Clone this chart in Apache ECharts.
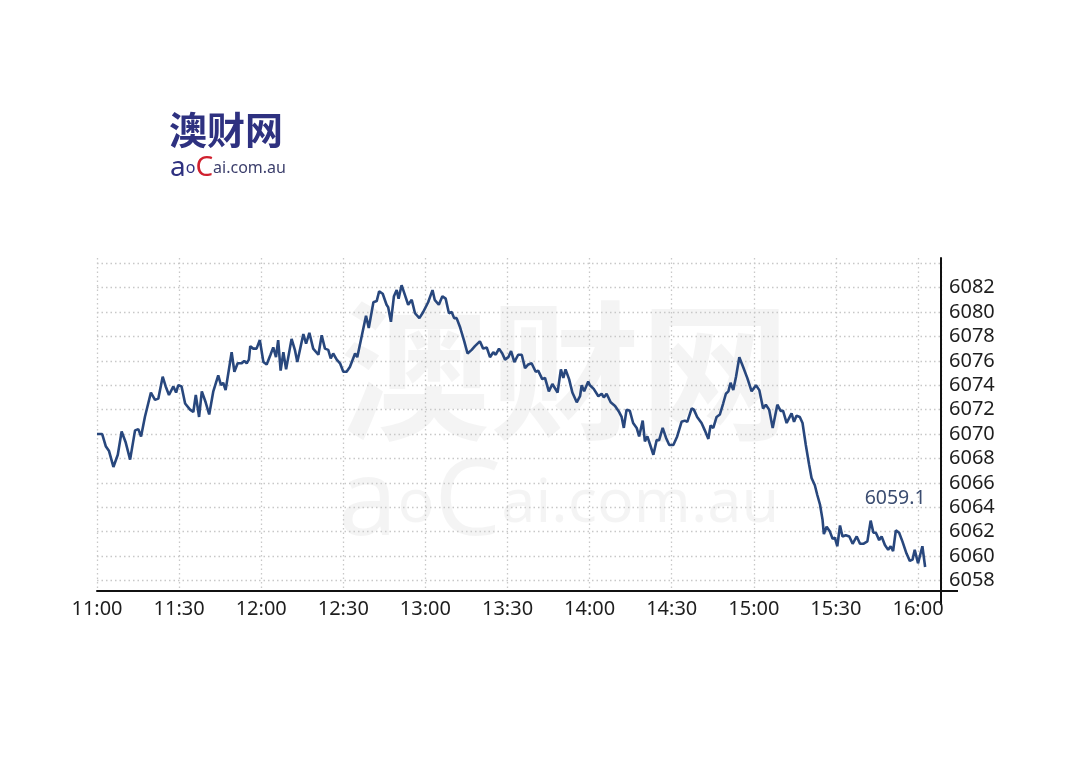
<!DOCTYPE html>
<html><head><meta charset="utf-8">
<script src="https://cdn.jsdelivr.net/npm/echarts@6/dist/echarts.min.js"></script>
<style>html,body{margin:0;padding:0;background:#fff}#c{width:1080px;height:766px}</style>
</head><body><div id="c"></div>
<script>
// minutes after 11:00
const minutes = [
  0,1.9,3.2,4.4,6.0,7.6,9.0,10.5,12.1,13.9,
  15.1,16.1,17.5,19.7,21.2,22.4,24.0,25.1,26.3,27.9,
  28.9,29.7,30.9,32.2,34.0,35.2,36.1,37.3,38.3,39.7,
  41.0,42.5,44.3,45.3,46.1,47.0,49.2,50.2,51.4,52.9,
  53.8,54.7,55.5,56.0,57.1,58.3,59.5,
  60.8,62.0,63.4,64.4,65.4,66.2,67.1,68.1,69.1,71.1,
  72.3,73.2,75.4,76.4,77.6,79.0,80.9,81.5,82.1,83.3,
  84.5,85.4,86.3,87.6,88.8,90.0,91.2,92.4,94.3,95.1,
  96.7,98.3,99.3,101.0,102.2,103.1,104.4,105.8,106.4,107.4,
  108.5,109.5,110.2,111.3,112.5,113.7,115.0,116.2,117.8,119.2,
  121.0,122.6,
  123.4,124.9,126.2,127.4,128.6,129.6,130.5,131.4,132.6,134.2,
  135.4,136.9,138.1,139.9,141.1,142.4,143.6,144.8,145.7,146.9,
  148.1,149.1,150.3,151.3,152.5,153.9,155.2,156.4,157.6,158.8,
  160.3,161.2,162.7,163.7,165.1,166.4,168.3,169.5,170.4,171.2,
  172.5,173.7,175.3,176.5,177.1,178.0,179.5,
  180.1,181.5,183.2,184.4,185.2,186.2,187.7,189.3,190.8,191.7,
  192.5,193.5,194.7,195.9,197.2,198.1,199.4,200.2,201.1,202.0,
  203.3,204.5,205.4,206.7,207.9,209.1,210.6,212.0,213.6,214.8,
  215.7,217.3,218.1,219.3,220.9,222.1,223.4,224.2,225.2,226.4,
  227.6,228.8,229.8,230.7,231.5,232.5,233.5,234.7,236.1,237.6,
  239.2,240.8,242.0,
  243.4,244.4,245.6,246.9,248.6,249.8,250.7,252.0,252.9,253.8,
  254.7,255.6,256.8,257.8,259.0,260.2,261.1,262.3,263.2,264.2,
  265.1,265.6,266.6,267.8,268.8,269.6,270.5,271.5,272.4,273.6,
  274.9,276.1,277.6,278.8,280.0,281.5,282.7,283.7,284.6,285.8,
  286.7,287.9,289.1,290.0,290.9,291.9,293.1,294.3,295.8,297.0,
  298.0,298.8,300.0,301.6,302.6
];
const prices = [
  6070.0,6070.0,6069.0,6068.6,6067.3,6068.3,6070.2,6069.3,6067.9,6070.3,
  6070.4,6069.8,6071.4,6073.4,6072.8,6072.9,6074.7,6073.9,6073.2,6073.9,
  6073.4,6074.0,6073.9,6072.5,6072.0,6071.8,6073.2,6071.4,6073.5,6072.6,
  6071.6,6073.5,6074.8,6074.0,6074.2,6073.6,6076.7,6075.1,6075.8,6075.8,
  6076.0,6075.8,6076.1,6077.2,6077.0,6077.0,6077.7,
  6075.9,6075.7,6076.5,6077.1,6076.3,6077.7,6075.2,6076.7,6075.3,6077.8,
  6076.9,6075.9,6078.2,6077.4,6078.3,6077.0,6076.5,6076.4,6078.1,6077.0,
  6076.9,6076.2,6076.6,6076.1,6075.8,6075.1,6075.1,6075.5,6076.6,6076.3,
  6078.0,6079.7,6078.7,6080.8,6080.9,6081.7,6081.5,6080.6,6080.4,6079.2,
  6081.3,6081.8,6081.1,6082.2,6081.4,6080.6,6081.0,6079.9,6079.5,6080.0,
  6080.8,6081.8,
  6081.0,6080.6,6081.3,6081.1,6079.9,6080.0,6079.5,6079.5,6078.8,6077.6,
  6076.6,6076.9,6077.2,6077.6,6077.0,6077.1,6076.3,6076.7,6076.5,6077.0,
  6076.6,6076.1,6076.3,6076.8,6075.9,6076.5,6076.5,6075.4,6075.7,6075.8,
  6075.1,6075.2,6074.5,6074.6,6073.5,6074.1,6073.4,6075.3,6074.6,6075.3,
  6074.5,6073.4,6072.6,6073.1,6074.0,6073.5,6074.3,
  6074.0,6073.7,6073.1,6073.3,6073.0,6073.3,6072.6,6072.3,6071.8,6071.4,
  6070.5,6072.0,6071.9,6070.9,6070.5,6069.8,6071.1,6069.4,6069.8,6069.2,
  6068.3,6069.5,6069.5,6070.5,6069.7,6069.1,6069.1,6069.8,6071.0,6071.1,
  6071.0,6072.1,6072.0,6071.4,6070.9,6070.3,6069.6,6070.7,6070.5,6071.4,
  6071.6,6072.5,6073.3,6073.5,6074.2,6073.6,6074.7,6076.3,6075.5,6074.6,
  6073.5,6074.0,6073.6,
  6072.1,6072.4,6072.0,6070.5,6072.4,6071.9,6071.9,6070.9,6071.3,6071.7,
  6071.0,6071.5,6071.4,6070.9,6069.1,6067.5,6066.4,6065.8,6065.0,6064.2,
  6063.0,6061.8,6062.4,6062.0,6061.4,6061.5,6060.8,6062.5,6061.6,6061.7,
  6061.6,6061.0,6061.6,6061.0,6061.0,6061.2,6062.9,6061.9,6061.9,6061.3,
  6061.6,6060.9,6060.5,6060.8,6060.4,6062.1,6061.9,6061.2,6060.2,6059.6,
  6059.7,6060.5,6059.4,6060.8,6059.1
];
const xTickLabels = ['11:00','11:30','12:00','12:30','13:00','13:30','14:00','14:30','15:00','15:30','16:00'];
const yLabelValues = [6058,6060,6062,6064,6066,6068,6070,6072,6074,6076,6078,6080,6082];
const yGridValues = [6058,6060,6062,6064,6066,6068,6070,6072,6074,6076,6078,6080,6082,6084];
const lastLabel = '6059.1';
const startMin = 660;           // 11:00
const xEnd = 968.4, yMin = 6057.13, yMax = 6084.43;

const FONT = '"Noto Sans", "Noto Sans CJK SC", sans-serif';
const chart = echarts.init(document.getElementById('c'));
const data = minutes.map((m, i) => [startMin + m, prices[i]]);
const lastPoint = data[data.length - 1];
const gridLine = { show: true, lineStyle: { type: [1.5, 3], color: '#c8c8c8', width: 1.3 } };
const WM = 'rgba(0,0,0,0.045)';

const baseGraphic = [
  { id: 'wm1', type: 'text', left: 340, top: 296, z: -10, silent: true,
    style: { text: '澳财网', font: 'bold 150px "Noto Sans CJK SC"', fill: WM } },
  { id: 'wm2', type: 'text', left: 338, top: 452, z: -10, silent: true,
    style: { text: '{a|a}{b|o}{a|C}{b|ai.com.au}', fill: WM,
      rich: { a: { fontSize: 106, fontFamily: FONT, fill: WM },
              b: { fontSize: 61, fontFamily: FONT, fill: WM } } } },
  { id: 'logo1', type: 'text', left: 169, top: 111,
    style: { text: '澳财网', font: 'bold 38px "Noto Sans CJK SC"', fill: '#2e3180' } },
  { id: 'logo2', type: 'text', left: 170, top: 154,
    style: { text: '{a|a}{o|o}{c|C}{r|ai.com.au}',
      rich: { a: { fontSize: 28, fontFamily: FONT, fill: '#2e3180' },
              o: { fontSize: 16, fontFamily: FONT, fill: '#2e3180' },
              c: { fontSize: 28, fontFamily: FONT, fill: '#d0202e' },
              r: { fontSize: 16, fontFamily: FONT, fill: '#3c3f6c' } } } }
];

chart.setOption({
  backgroundColor: '#ffffff',
  animation: false,
  textStyle: { fontFamily: FONT },
  grid: { left: 97, right: 139, top: 258, bottom: 175 },
  xAxis: {
    type: 'value', min: startMin, max: xEnd, interval: 30,
    axisLine: { show: true, lineStyle: { color: '#111', width: 2 } },
    axisTick: { show: false },
    axisLabel: { color: '#1e1e1e', fontSize: 20, margin: 8, fontFamily: FONT,
      showMaxLabel: false,
      formatter: v => { const k = (v - startMin) / 30; return Number.isInteger(k) && xTickLabels[k] ? xTickLabels[k] : ''; } },
    splitLine: gridLine
  },
  yAxis: {
    type: 'value', position: 'right', min: yMin, max: yMax, scale: true,
    axisLine: { show: true, lineStyle: { color: '#111', width: 2 } },
    axisTick: { show: false, customValues: yGridValues },
    axisLabel: { customValues: yLabelValues, color: '#1e1e1e', fontSize: 20, margin: 8, fontFamily: FONT,
      formatter: v => String(Math.round(v)) },
    splitLine: gridLine
  },
  graphic: baseGraphic,
  series: [{
    type: 'line', data: data, showSymbol: false, symbol: 'none',
    lineStyle: { color: '#28477d', width: 2.6 }, z: 5,
    markPoint: {
      symbol: 'circle', symbolSize: 1, itemStyle: { color: 'rgba(0,0,0,0)' },
      label: { show: true, position: 'top', offset: [-30, -53], formatter: lastLabel,
               color: '#3a4c70', fontSize: 19.5, fontFamily: FONT },
      data: [{ coord: lastPoint }]
    }
  }]
});

// small axis-line extensions beyond the crossing corner (as in the reference)
const corner = chart.convertToPixel({ gridIndex: 0 }, [xEnd, yMin]);
chart.setOption({
  graphic: [
    { id: 'extH', type: 'line', shape: { x1: corner[0], y1: corner[1], x2: corner[0] + 17, y2: corner[1] },
      style: { stroke: '#111', lineWidth: 2 } },
    { id: 'extV', type: 'line', shape: { x1: corner[0], y1: corner[1], x2: corner[0], y2: corner[1] + 14 },
      style: { stroke: '#111', lineWidth: 2 } }
  ]
});
</script>
</body></html>
